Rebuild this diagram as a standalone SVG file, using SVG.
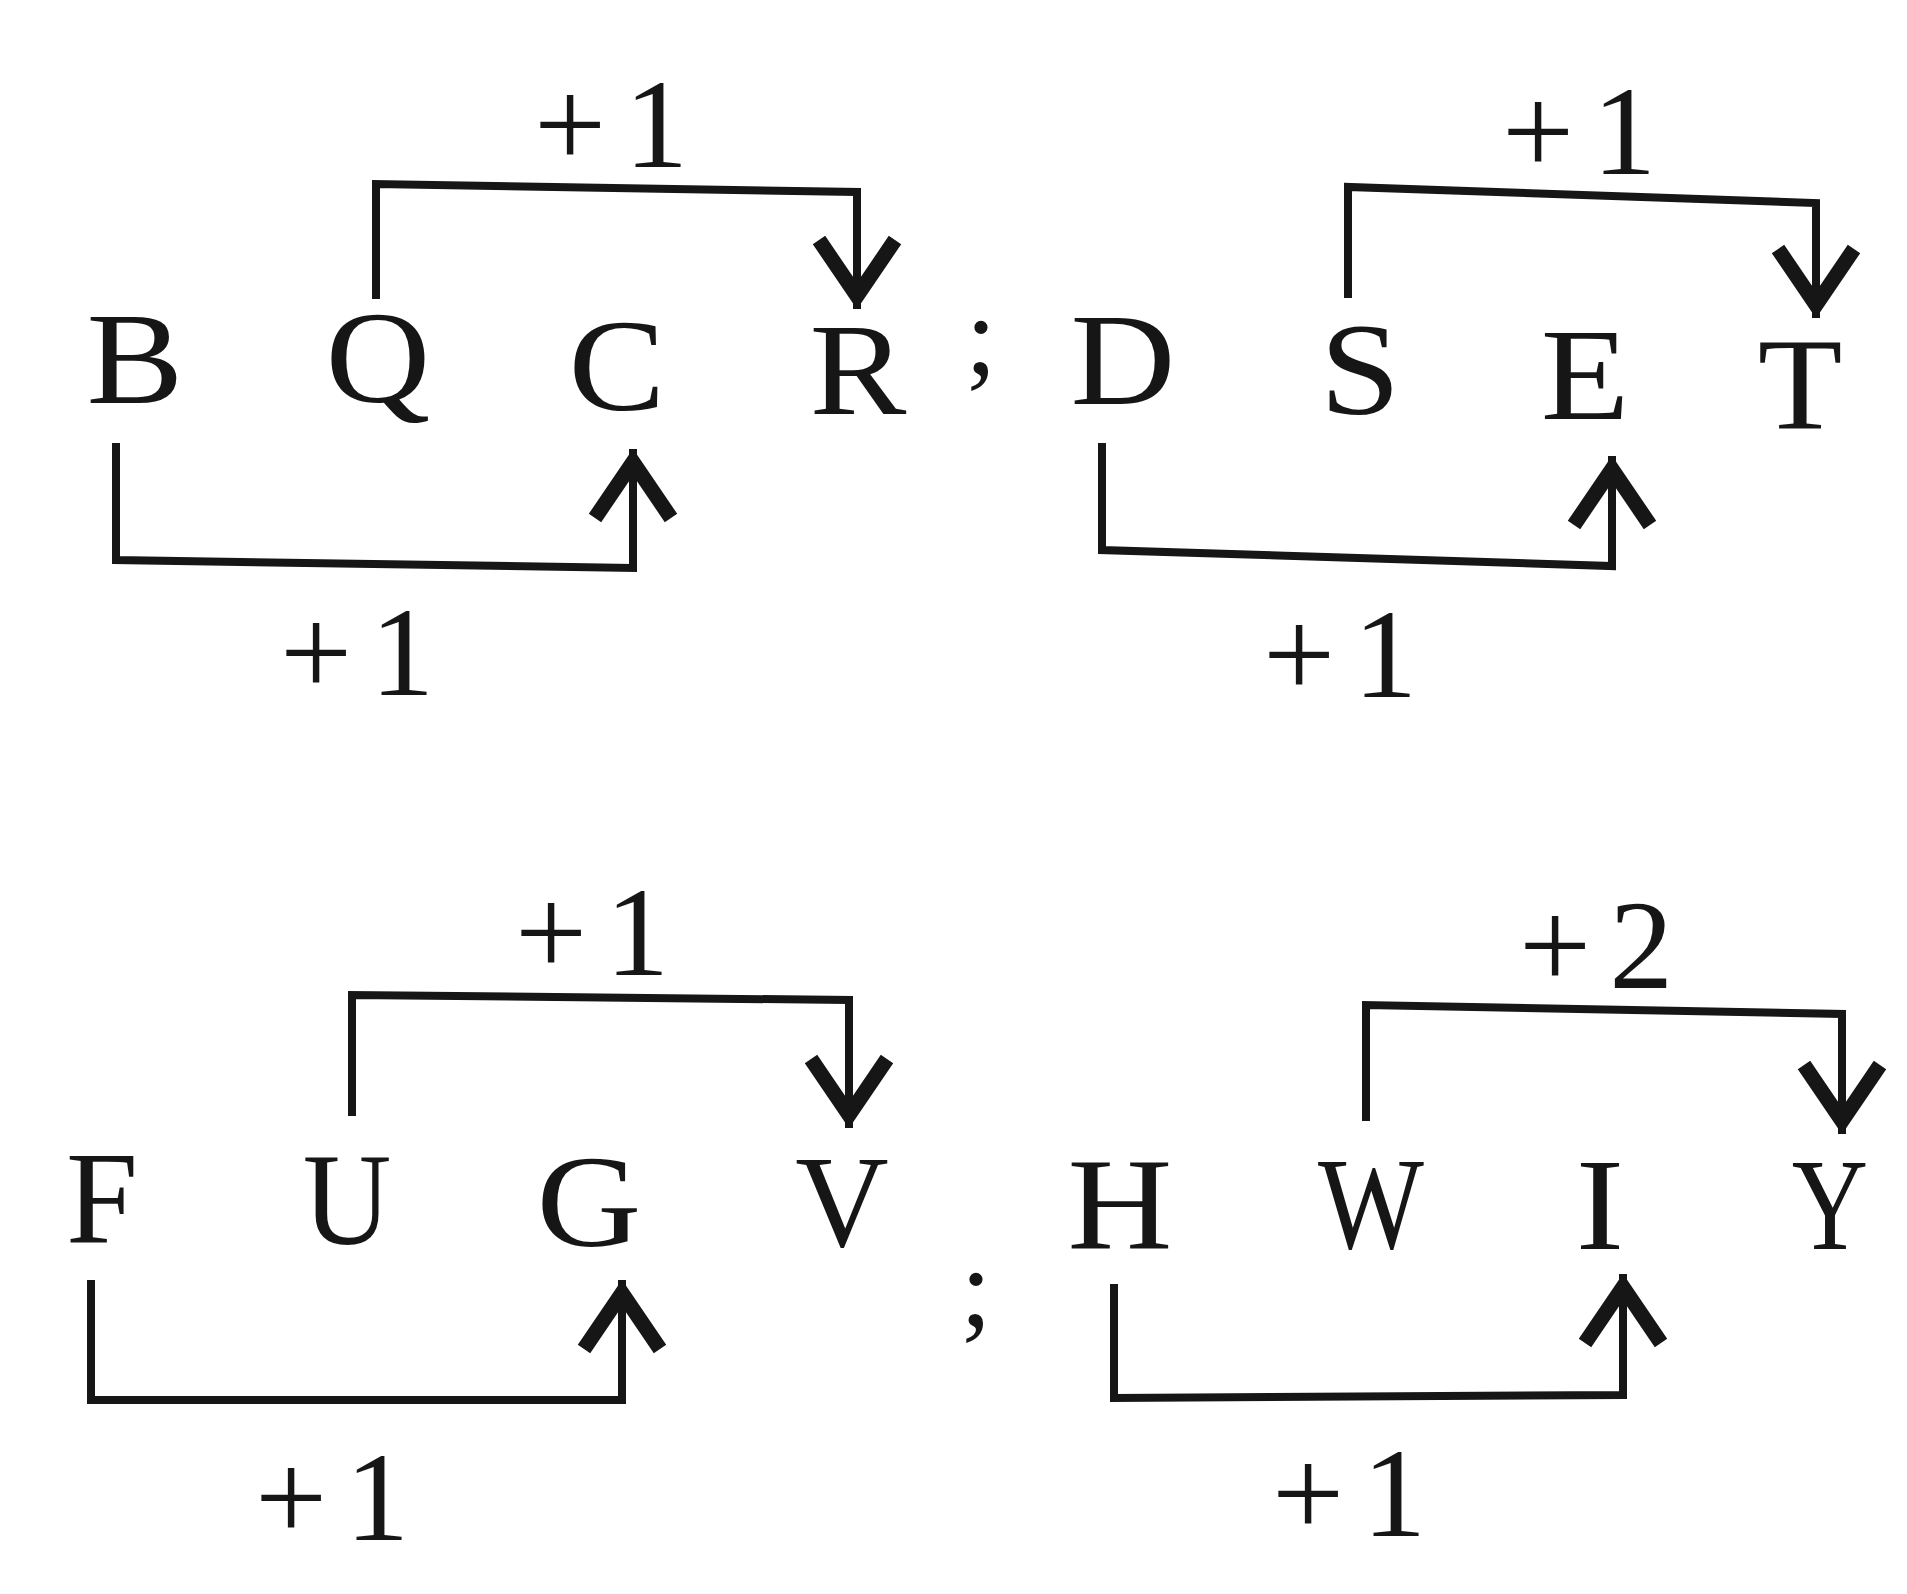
<svg xmlns="http://www.w3.org/2000/svg" width="1907" height="1594" viewBox="0 0 1907 1594">
<defs>
<style>
.ltr{font-family:"Liberation Serif","Times New Roman",serif;font-size:132px;fill:#161616;text-anchor:middle}
.semi{font-family:"Liberation Serif","Times New Roman",serif;font-size:112px;fill:#161616;text-anchor:middle}
.lbl{font-family:"Liberation Serif","Times New Roman",serif;font-size:128px;fill:#161616;letter-spacing:18px}
.con{fill:none;stroke:#161616;stroke-width:8;stroke-linejoin:miter;marker-end:url(#chev)}
</style>
<marker id="chev" viewBox="-90 -60 100 120" refX="0" refY="0" markerWidth="100" markerHeight="120" markerUnits="userSpaceOnUse" orient="auto" overflow="visible">
<path d="M -69 -38 L -13 0 L -69 38" fill="none" stroke="#161616" stroke-width="15" stroke-linejoin="miter" stroke-miterlimit="10"/>
</marker>
</defs>
<rect width="1907" height="1594" fill="#ffffff"/>
<g id="row1">
<g id="node-B"><text class="ltr" transform="translate(135,403) scale(1.1,1)">B</text></g>
<g id="node-Q"><text class="ltr" transform="translate(378,402) scale(1.1,1)">Q</text></g>
<g id="node-C"><text class="ltr" transform="translate(617,410) scale(1.1,1)">C</text></g>
<g id="node-R"><text class="ltr" transform="translate(858,414) scale(1.1,1)">R</text></g>
<g id="sep1"><text class="semi" x="981" y="373">;</text></g>
<g id="node-D"><text class="ltr" transform="translate(1123,404) scale(1.1,1)">D</text></g>
<g id="node-S"><text class="ltr" transform="translate(1360,414) scale(1.1,1)">S</text></g>
<g id="node-E"><text class="ltr" transform="translate(1585,419) scale(1.1,1)">E</text></g>
<g id="node-T"><text class="ltr" transform="translate(1800,429) scale(1.05,1)">T</text></g>
</g>
<g id="row2">
<g id="node-F"><text class="ltr" transform="translate(102,1242) scale(0.98,1)">F</text></g>
<g id="node-U"><text class="ltr" transform="translate(347,1244) scale(0.93,1)">U</text></g>
<g id="node-G"><text class="ltr" transform="translate(589,1246) scale(1.1,1)">G</text></g>
<g id="node-V"><text class="ltr" transform="translate(842,1246) scale(0.98,1)">V</text></g>
<g id="sep2"><text class="semi" x="976" y="1325">;</text></g>
<g id="node-H"><text class="ltr" transform="translate(1120,1248) scale(1.1,1)">H</text></g>
<g id="node-W"><text class="ltr" transform="translate(1371,1248) scale(0.85,1)">W</text></g>
<g id="node-I"><text class="ltr" transform="translate(1600,1249) scale(1.1,1)">I</text></g>
<g id="node-Y"><text class="ltr" transform="translate(1830,1249) scale(0.8,1)">Y</text></g>
</g>
<g id="connectors">
<path class="con" d="M 376 299 L 376 184 L 857 192 L 857 309"/>
<path class="con" d="M 116 443 L 116 560 L 633 568 L 633 449"/>
<path class="con" d="M 1348 298 L 1348 187 L 1816 203 L 1816 318"/>
<path class="con" d="M 1102 443 L 1102 550 L 1612 566 L 1612 456"/>
<path class="con" d="M 352 1116 L 352 995 L 849 1000 L 849 1128"/>
<path class="con" d="M 91 1280 L 91 1400 L 622 1400 L 622 1280"/>
<path class="con" d="M 1366 1121 L 1366 1005 L 1842 1014 L 1842 1134"/>
<path class="con" d="M 1114 1284 L 1114 1398 L 1623 1395 L 1623 1274"/>
<text class="lbl" x="534" y="167">+1</text>
<text class="lbl" x="280" y="695">+1</text>
<text class="lbl" x="1502" y="174">+1</text>
<text class="lbl" x="1263" y="697">+1</text>
<text class="lbl" x="515" y="975">+1</text>
<text class="lbl" x="255" y="1540">+1</text>
<text class="lbl" x="1519" y="988">+2</text>
<text class="lbl" x="1272" y="1536">+1</text>
</g>
</svg>
